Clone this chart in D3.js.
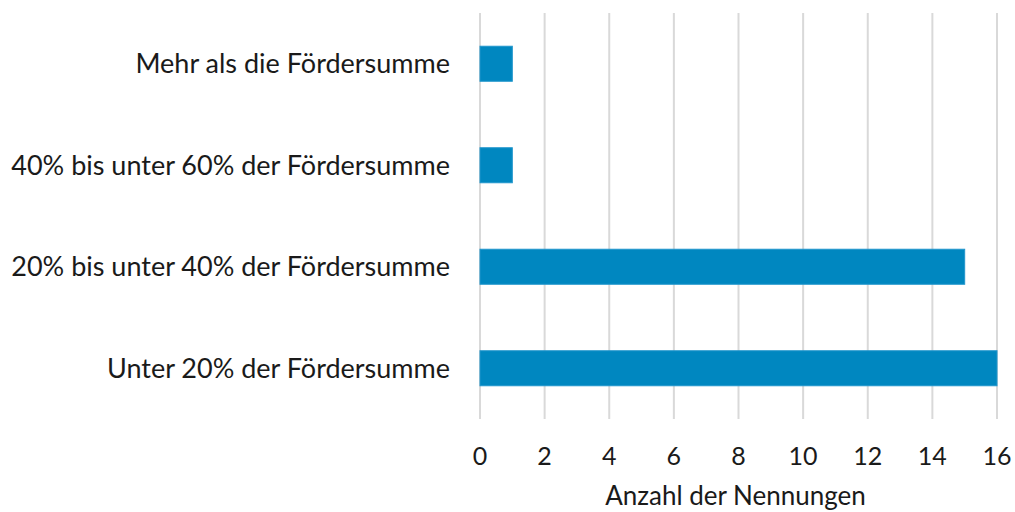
<!DOCTYPE html>
<html><head><meta charset="utf-8">
<script src="https://cdn.jsdelivr.net/npm/d3@7"></script>
<style>body{margin:0;background:#fff}svg{display:block}text{font-family:Lato,"Open Sans",sans-serif;fill:#1a1a1a}</style>
</head><body>
<script>
const categories = ["Mehr als die Fördersumme","40% bis unter 60% der Fördersumme","20% bis unter 40% der Fördersumme","Unter 20% der Fördersumme"];
const values = [1,1,15,16];
const xTicks = [0,2,4,6,8,10,12,14,16];
const xTitle = "Anzahl der Nennungen";

const W=1015,H=512;
const svg=d3.select("body").append("svg").attr("width",W).attr("height",H);
const x=d3.scaleLinear().domain([0,16]).range([480,997]);
const y=d3.scaleBand().domain(categories).range([13,419]).paddingInner(0.655).paddingOuter(0.3275);

svg.append("g").selectAll("line").data(xTicks).join("line")
  .attr("x1",d=>x(d)).attr("x2",d=>x(d)).attr("y1",13).attr("y2",419)
  .attr("stroke","#d9d9d9").attr("stroke-width",2);

svg.append("g").selectAll("rect").data(values).join("rect")
  .attr("x",x(0)).attr("y",(d,i)=>y(categories[i]))
  .attr("width",d=>x(d)-x(0)).attr("height",y.bandwidth())
  .attr("fill","#0087c0").attr("stroke","#2196cc").attr("stroke-width",1);

svg.append("g").selectAll("text").data(categories).join("text")
  .attr("x",450).attr("y",d=>y(d)+y.bandwidth()/2+9.5)
  .attr("text-anchor","end").attr("font-size",27).text(d=>d);

svg.append("g").selectAll("text").data(xTicks).join("text")
  .attr("x",d=>x(d)).attr("y",465)
  .attr("text-anchor","middle").attr("font-size",25).text(d=>d);

svg.append("text").attr("x",(605+866)/2).attr("y",505)
  .attr("text-anchor","middle").attr("font-size",26).text(xTitle);
</script>
</body></html>
